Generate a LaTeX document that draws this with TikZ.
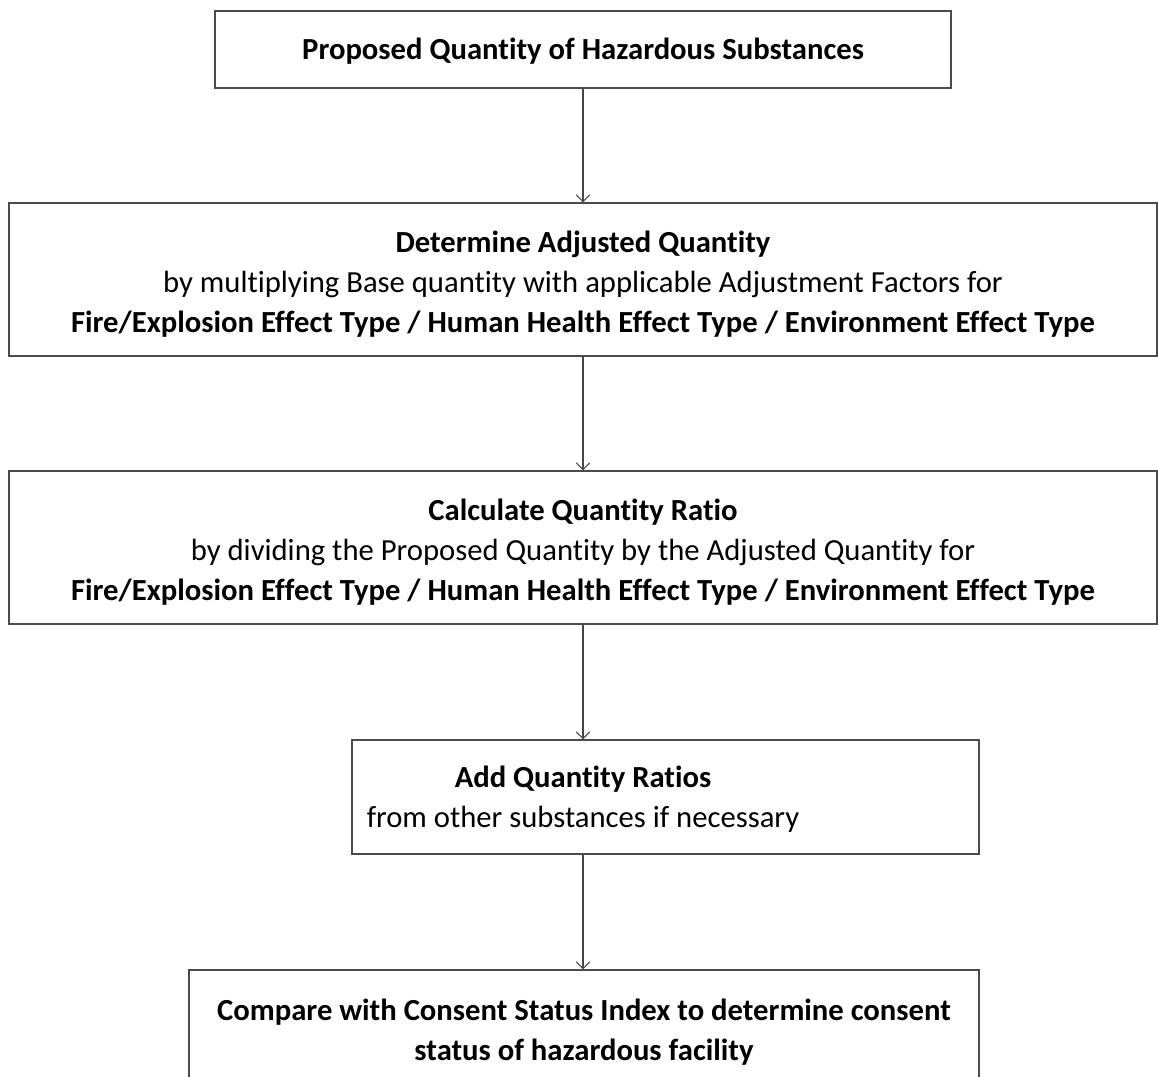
\documentclass[tikz,border=0pt]{standalone}
\usepackage{fontspec}
\setmainfont{Carlito}[Ligatures=NoCommon]
\usetikzlibrary{arrows.meta}
\definecolor{boxgray}{RGB}{75,75,75}
\definecolor{linegray}{RGB}{70,70,70}
\begin{document}
\begin{tikzpicture}[x=0.75pt,y=-0.75pt,
  box/.style={draw=boxgray, line width=1.1pt, inner sep=0pt},
  boxtext/.style={align=center, inner sep=0pt, font=\fontsize{23}{30}\selectfont},
  conn/.style={draw=linegray, line width=0.8pt, -{Straight Barb[length=5pt,width=10pt]}}]
\useasboundingbox (0,0) rectangle (1158,1077);
\clip (0,0) rectangle (1158,1077);
\fill[white] (0,0) rectangle (1158,1077);
% boxes
\node[box, minimum width=552pt, minimum height=57.75pt] (b1) at (583,49.5) {};
\node[box, minimum width=861pt, minimum height=114.75pt] (b2) at (583,279.5) {};
\node[box, minimum width=861pt, minimum height=114.75pt] (b3) at (583,547.5) {};
\node[box, minimum width=470.25pt, minimum height=85.5pt] (b4) at (665.5,797) {};
\node[box, minimum width=592.5pt, minimum height=93pt] (b5) at (584,1032) {};
% texts
\node[boxtext] (t1) at (583,51)
  {\textbf{Proposed Quantity of Hazardous Substances}};
\node[boxtext] (t2) at (583,284)
  {\textbf{Determine Adjusted Quantity}\\
   by multiplying Base quantity with applicable Adjustment Factors for\\
   \textbf{Fire/Explosion Effect Type / Human Health Effect Type / Environment Effect Type}};
\node[boxtext] (t3) at (583,552)
  {\textbf{Calculate Quantity Ratio}\\
   by dividing the Proposed Quantity by the Adjusted Quantity for\\
   \textbf{Fire/Explosion Effect Type / Human Health Effect Type / Environment Effect Type}};
\node[boxtext] (t4) at (583,799)
  {\textbf{Add Quantity Ratios}\\
   from other substances if necessary};
\node[boxtext] (t5) at (584,1032)
  {\textbf{Compare with Consent Status Index to determine consent}\\
   \textbf{status of hazardous facility}};
% connectors
\draw[conn] (b1.south -| 583,0) -- (583,0 |- b2.north);
\draw[conn] (b2.south -| 583,0) -- (583,0 |- b3.north);
\draw[conn] (b3.south -| 583,0) -- (583,0 |- b4.north);
\draw[conn] (b4.south -| 583,0) -- (583,0 |- b5.north);
\end{tikzpicture}
\end{document}
